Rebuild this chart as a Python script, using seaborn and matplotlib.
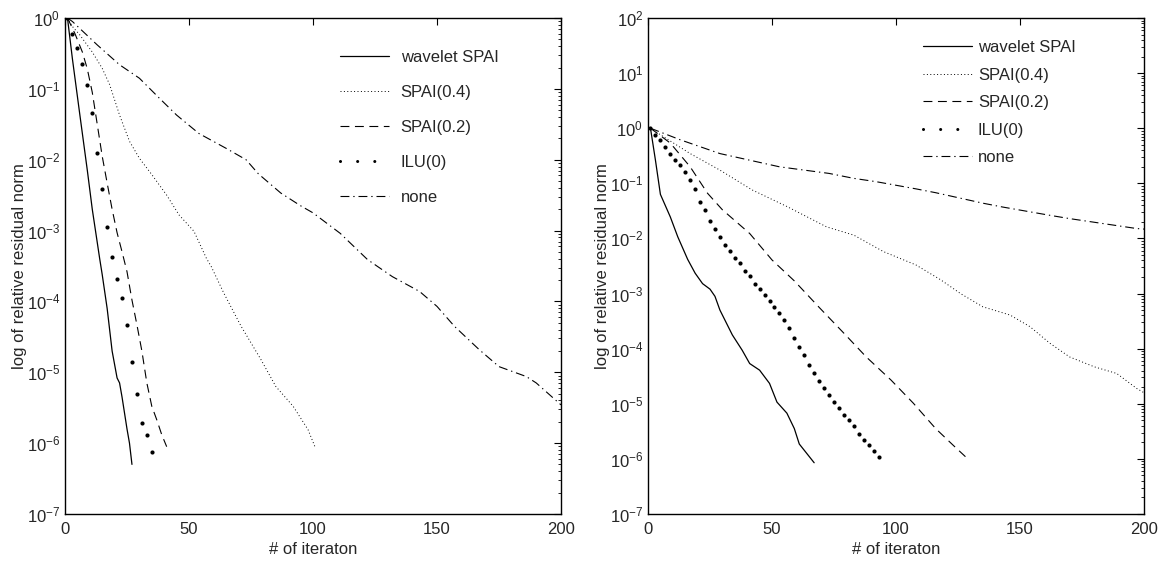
import numpy as np
import matplotlib
matplotlib.use("Agg")
import matplotlib.pyplot as plt
import seaborn as sns
from matplotlib.lines import Line2D
from matplotlib.ticker import LogLocator, NullFormatter

sns.set_theme(style="white")
plt.rcParams['font.family'] = ['Liberation Sans', 'DejaVu Sans']
plt.rcParams['mathtext.fontset'] = 'custom'
plt.rcParams['mathtext.rm'] = 'Liberation Sans'

labels = ["wavelet SPAI", "SPAI(0.4)", "SPAI(0.2)", "ILU(0)", "none"]
x_ticks = [0, 50, 100, 150, 200]
left_decades = [-7, -6, -5, -4, -3, -2, -1, 0]
right_decades = [-7, -6, -5, -4, -3, -2, -1, 0, 1, 2]

# left problem: iteration numbers and log10 of relative residual norm
left_wavelet_it = [1, 3, 6, 9, 11, 14, 15, 17, 19, 21, 22, 23, 25, 26, 27]
left_wavelet_log = [0, -0.58, -1.37, -2.15, -2.7, -3.4, -3.62, -4.1, -4.7, -5.08, -5.15, -5.35, -5.8, -6.0, -6.3]
left_spai4_it = [1, 3, 6, 11, 15, 18, 22, 26, 30, 35, 41, 46, 52, 57, 59, 64, 71, 79, 85, 92, 98, 101]
left_spai4_log = [0, -0.12, -0.24, -0.48, -0.71, -0.94, -1.37, -1.74, -1.98, -2.21, -2.50, -2.78, -3.01,
                  -3.39, -3.51, -3.88, -4.35, -4.82, -5.20, -5.48, -5.81, -6.07]
left_spai2_it = [1, 4, 7, 9, 11, 13, 15, 17, 19, 21, 23, 25, 27, 29, 31, 33, 35, 37, 39, 41]
left_spai2_log = [0, -0.22, -0.48, -0.72, -1.05, -1.5, -1.95, -2.33, -2.7, -3.03, -3.3, -3.58, -3.98,
                  -4.33, -4.7, -5.15, -5.48, -5.67, -5.88, -6.05]
left_ilu_it = [1, 3, 5, 7, 9, 11, 13, 15, 17, 19, 21, 23, 25, 27, 29, 31, 33, 35]
left_ilu_log = [0, -0.22, -0.43, -0.65, -0.95, -1.34, -1.91, -2.42, -2.95, -3.37, -3.69, -3.95, -4.33,
                -4.85, -5.31, -5.72, -5.89, -6.12]
left_none_it = [1, 3, 13, 22, 30, 38, 45, 54, 65, 73, 78, 87, 95, 100, 111, 122, 132, 143, 150, 157,
                167, 175, 186, 190, 200]
left_none_log = [0, -0.05, -0.38, -0.66, -0.85, -1.13, -1.37, -1.63, -1.84, -2.0, -2.2, -2.47, -2.65,
                 -2.75, -3.04, -3.41, -3.65, -3.86, -4.07, -4.35, -4.68, -4.92, -5.06, -5.15, -5.46]

# right problem
right_wavelet_it = [1, 3, 5, 9, 12, 16, 19, 22, 25, 27, 29, 34, 38, 41, 45, 49, 52, 56, 59, 61, 64, 67]
right_wavelet_log = [0, -0.58, -1.2, -1.61, -1.97, -2.38, -2.63, -2.82, -2.92, -3.05, -3.30, -3.75,
                     -4.03, -4.27, -4.39, -4.63, -4.97, -5.17, -5.45, -5.73, -5.90, -6.07]
right_spai4_it = [1, 4, 17, 29, 42, 56, 72, 83, 95, 108, 118, 126, 135, 146, 154, 162, 170, 180, 189, 197, 200]
right_spai4_log = [0, -0.09, -0.46, -0.76, -1.12, -1.42, -1.79, -1.94, -2.24, -2.48, -2.75, -3.0, -3.24,
                   -3.39, -3.60, -3.90, -4.15, -4.33, -4.45, -4.72, -4.8]
right_spai2_it = [1, 9, 17, 24, 30, 41, 50, 59, 69, 79, 88, 98, 107, 116, 123, 128]
right_spai2_log = [0, -0.27, -0.70, -1.18, -1.48, -1.91, -2.39, -2.77, -3.25, -3.72, -4.15, -4.57,
                   -4.99, -5.45, -5.75, -5.96]
right_ilu_it = list(range(1, 94, 2))
right_ilu_log = [0, -0.12, -0.21, -0.34, -0.46, -0.58, -0.67, -0.80, -0.94, -1.11, -1.33, -1.48, -1.68,
                 -1.82, -1.98, -2.12, -2.22, -2.35, -2.45, -2.59, -2.69, -2.82, -2.91, -3.03, -3.13,
                 -3.24, -3.36, -3.48, -3.62, -3.80, -3.97, -4.12, -4.30, -4.45, -4.59, -4.72, -4.84,
                 -4.96, -5.07, -5.21, -5.30, -5.40, -5.54, -5.65, -5.75, -5.85, -5.96]
right_none_it = [1, 13, 29, 53, 73, 83, 92, 108, 116, 135, 143, 162, 170, 197, 200]
right_none_log = [0, -0.21, -0.46, -0.70, -0.82, -0.91, -0.97, -1.10, -1.17, -1.36, -1.43, -1.58,
                  -1.64, -1.82, -1.83]

styles = {
    "wavelet SPAI": dict(linestyle="-", lw=0.9),
    "SPAI(0.4)": dict(linestyle=(0, (1, 2.5)), lw=0.7),
    "SPAI(0.2)": dict(linestyle=(0, (8, 5)), lw=0.8),
    "none": dict(linestyle=(0, (8, 3.5, 1.2, 3.5)), lw=0.8),
}


def draw_panel(ax, series, ilu, decades, legend_anchor, spacing, textpad):
    for name, (it, lg) in series.items():
        sns.lineplot(x=it, y=10.0 ** np.array(lg), ax=ax, color="black", **styles[name])
    sns.scatterplot(x=ilu[0], y=10.0 ** np.array(ilu[1]), ax=ax, color="black", s=9, linewidth=0)
    ax.set_yscale("log")
    ax.set_xlim(x_ticks[0], x_ticks[-1])
    ax.set_ylim(10.0 ** decades[0], 10.0 ** decades[-1])
    ax.set_xticks(x_ticks)
    ax.set_yticks([10.0 ** d for d in decades])
    ax.yaxis.set_minor_locator(LogLocator(base=10, subs=np.arange(2, 10), numticks=20))
    ax.yaxis.set_minor_formatter(NullFormatter())
    ax.tick_params(which="both", direction="in", top=True, right=True, labelsize=12, color="black")
    ax.tick_params(which="major", length=5, width=0.8)
    ax.tick_params(which="minor", length=2.5, width=0.6)
    ax.tick_params(axis="x", pad=6)
    for sp in ax.spines.values():
        sp.set_color("black")
        sp.set_linewidth(1.0)
    ax.set_xlabel("# of iteraton", fontsize=12, labelpad=3)
    ax.set_ylabel("log of relative residual norm", fontsize=12, labelpad=0)

    handles = []
    for name in labels:
        if name == "ILU(0)":
            handles.append(Line2D([], [], color="black", lw=2.2, linestyle=(0, (0.01, 5.6)),
                                  dash_capstyle="round"))
        else:
            handles.append(Line2D([], [], color="black", **styles[name]))
    ax.legend(handles, labels, loc="upper left", bbox_to_anchor=legend_anchor, frameon=False,
              fontsize=12, handlelength=2.95, handletextpad=textpad, labelspacing=spacing,
              borderaxespad=0, borderpad=0)


fig = plt.figure(figsize=(11.66, 5.63), dpi=100)
ax1 = fig.add_axes([65 / 1166, 49 / 563, 496 / 1166, 496 / 563])
ax2 = fig.add_axes([648 / 1166, 49 / 563, 496 / 1166, 496 / 563])

draw_panel(ax1,
           {"wavelet SPAI": (left_wavelet_it, left_wavelet_log),
            "SPAI(0.4)": (left_spai4_it, left_spai4_log),
            "SPAI(0.2)": (left_spai2_it, left_spai2_log),
            "none": (left_none_it, left_none_log)},
           (left_ilu_it, left_ilu_log), left_decades, (0.554, 0.935), 1.2, 0.7)
draw_panel(ax2,
           {"wavelet SPAI": (right_wavelet_it, right_wavelet_log),
            "SPAI(0.4)": (right_spai4_it, right_spai4_log),
            "SPAI(0.2)": (right_spai2_it, right_spai2_log),
            "none": (right_none_it, right_none_log)},
           (right_ilu_it, right_ilu_log), right_decades, (0.554, 0.955), 0.75, 0.35)

fig.savefig("out.png", dpi=100)
